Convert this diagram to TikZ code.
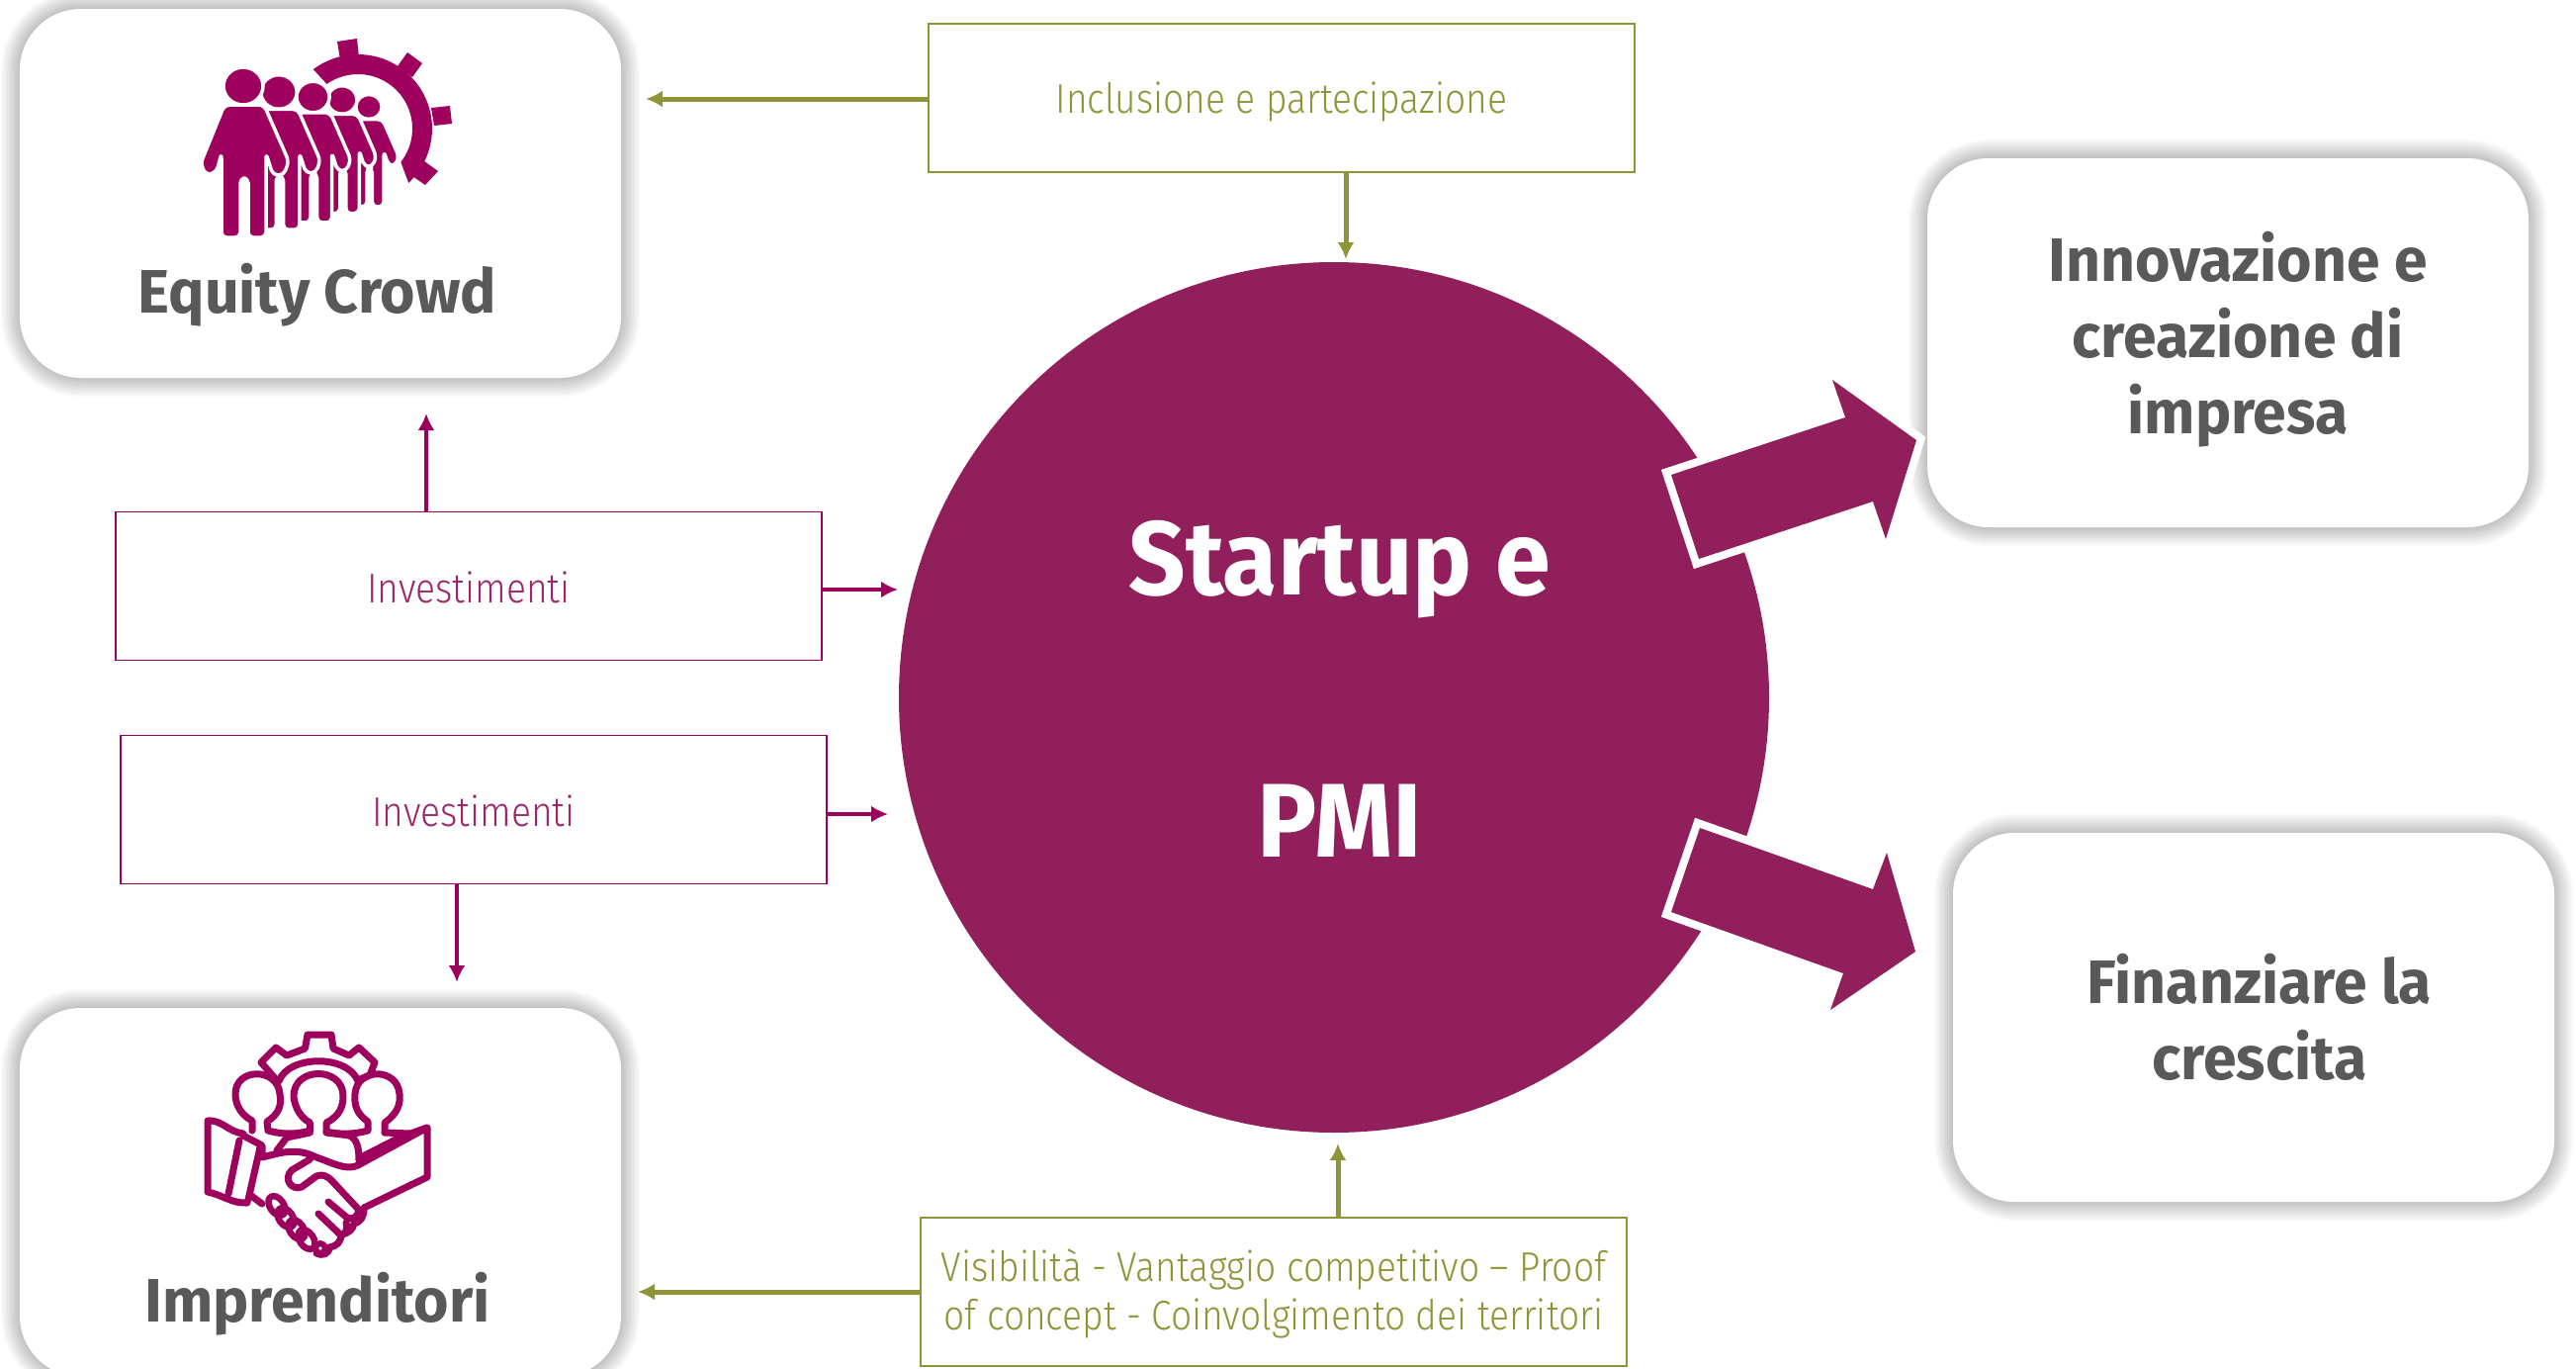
\documentclass[tikz,border=0pt]{standalone}
\usepackage{fontspec}
\setmainfont{Fira Sans}
\newfontfamily\titlefont[FakeStretch=0.98]{Fira Sans}
\newfontfamily\disctitlefont[FakeStretch=0.95]{Fira Sans}
\newfontfamily\labelfont[FakeStretch=0.885]{Fira Sans Light}
\usetikzlibrary{arrows.meta,calc}
\definecolor{cardtext}{HTML}{595959}
\definecolor{disc}{HTML}{911F5B}
\definecolor{plum}{HTML}{9E005D}
\definecolor{olive}{HTML}{8F9436}
\definecolor{labelplum}{HTML}{A0246A}
\tikzset{
  x=1pt,y=-1pt,
  card/.style={rectangle,rounded corners=62pt,fill=white,inner sep=0pt,minimum width=608pt,minimum height=373pt},
  cardtitle/.style={font=\titlefont\bfseries\fontsize{62}{77}\selectfont,text=cardtext,align=center,inner sep=0pt},
  labelbox/.style={rectangle,draw,line width=1.3pt,fill=white,minimum width=714pt,minimum height=150pt,inner sep=0pt,align=center,font=\labelfont\fontsize{42}{49}\selectfont},
  greenbox/.style={labelbox,draw=olive,text=olive},
  plumbox/.style={labelbox,draw=plum,text=labelplum},
  greenarrow/.style={draw=olive,line width=5pt,-{Latex[length=17pt,width=17pt]}},
  plumarrow/.style={draw=plum,line width=4.5pt,-{Latex[length=17pt,width=17pt]}},
  bigarrow/.style={fill=disc,draw=white,line width=16pt,line join=miter},
  bigfill/.style={fill=disc},
  icon/.style={draw=plum,line width=7pt,line join=round,line cap=round},
  person/.style={fill=plum,draw=white,line width=3.5pt,rounded corners=5pt,line join=round},
}
\newcommand{\softshadow}[4]{%
  \foreach \s in {1,...,12}{
    \fill[black,opacity=0.018,rounded corners={62pt+\s*1.6pt}] (#1-\s*1.6,#2-\s*1.6) rectangle (#3+\s*1.6,#4+\s*1.6);
  }%
}
\newcommand{\crowdperson}[3]{%
  \begin{scope}[shift={(#1,#2)},scale=#3]
    \fill[plum,draw=white,line width=3.5pt] (0,0) ellipse[x radius=20,y radius=19];
    \path[person] (-19,19) -- (21,19) -- (46,76) -- (41,90) -- (30,90) -- (23,68) -- (23,153) -- (5,153) -- (5,93) -- (-3,93) -- (-3,153) -- (-22,153) -- (-22,68) -- (-27,87) -- (-38,90) -- (-43,78) -- cycle;
  \end{scope}%
}
\begin{document}
\begin{tikzpicture}
\useasboundingbox (0,0) rectangle (2605,1384);
\clip (0,0) rectangle (2605,1384);
\fill[white] (0,0) rectangle (2605,1384);

% cards
\softshadow{20}{9}{628}{382}
\softshadow{20}{1019}{628}{1392}
\softshadow{1949}{160}{2557}{533}
\softshadow{1975}{842}{2583}{1215}
\node[card] (crowd) at (324,195.5) {};
\node[card] (impr) at (324,1205.5) {};
\node[card] (innov) at (2253,346.5) {};
\node[card] (fin) at (2279,1028.5) {};

% disc
\node[circle,fill=disc,minimum size=880pt,inner sep=0pt] (disc) at (1349,705) {};
\node[font=\disctitlefont\bfseries\fontsize{106}{265}\selectfont,text=white,align=center,inner sep=0pt] (disclabel) at (1355,696) {Startup e\\PMI};

% titles
\node[cardtitle,anchor=base] (crowdlabel) at (321,316) {Equity Crowd};
\node[cardtitle,anchor=base] (imprlabel) at (321,1336) {Imprenditori};
\node[cardtitle] (innovlabel) at (2263,343) {Innovazione e\\creazione di\\impresa};
\node[cardtitle] (finlabel) at (2285,1028) {Finanziare la\\crescita};

% label boxes
\node[greenbox] (incl) at (1296,99) {\rule{0pt}{40pt}Inclusione e partecipazione};
\node[plumbox] (inv1) at (474,592.5) {\rule{0pt}{34pt}Investimenti};
\node[plumbox] (inv2) at (479,818.5) {\rule{0pt}{34pt}Investimenti};
\node[greenbox] (vis) at (1288,1306) {\rule{0pt}{36pt}Visibilità - Vantaggio competitivo – Proof\\of concept - Coinvolgimento dei territori};

% connector free ends
\coordinate (e1) at (653,100);
\coordinate (e2) at (1361,262);
\coordinate (e3) at (431,418);
\coordinate (e4) at (908,596);
\coordinate (e5) at (898,823);
\coordinate (e6) at (462,993);
\coordinate (e7) at (1353,1156);
\coordinate (e8) at (645,1306);

\draw[greenarrow] (incl.west |- e1) -- (e1);
\draw[greenarrow] (incl.south -| e2) -- (e2);
\draw[plumarrow] (inv1.north -| e3) -- (e3);
\draw[plumarrow] (inv1.east |- e4) -- (e4);
\draw[plumarrow] (inv2.east |- e5) -- (e5);
\draw[plumarrow] (inv2.south -| e6) -- (e6);
\draw[greenarrow] (vis.north -| e7) -- (e7);
\draw[greenarrow] (vis.west |- e8) -- (e8);

% big arrows
\path[bigarrow] (1690,480) -- (1866,422) -- (1853,384) -- (1938,445) -- (1907,545) -- (1894,507) -- (1718,565) -- cycle;
\path[bigfill] (1690,480) -- (1866,422) -- (1853,384) -- (1938,445) -- (1907,545) -- (1894,507) -- (1718,565) -- cycle;
\path[bigarrow] (1719,837) -- (1894,899) -- (1908,862) -- (1937,962) -- (1851,1021) -- (1864,984) -- (1690,922) -- cycle;
\path[bigfill] (1719,837) -- (1894,899) -- (1908,862) -- (1937,962) -- (1851,1021) -- (1864,984) -- (1690,922) -- cycle;

% crowd icon: gear
\fill[plum] plot[domain=127:-47,samples=50] ({362+75*cos(\x)},{130-75*sin(\x)}) -- plot[domain=-38:125,samples=50] ({362+55*cos(\x)},{130-55*sin(\x)}) -- cycle;
\fill[plum] (341,42) -- (361,39) -- (363,58) -- (344,60) -- cycle;
\fill[plum] (412,53) -- (427,64) -- (417,78) -- (402,67) -- cycle;
\fill[plum] (436,109) -- (455,107) -- (457,125) -- (439,127) -- cycle;
\fill[plum] (429,163) -- (443,173) -- (430,187) -- (417,178) -- cycle;
% crowd icon: people, back to front
\crowdperson{373}{108}{0.66}
\crowdperson{346}{101}{0.75}
\crowdperson{316.5}{98}{0.83}
\crowdperson{282}{93}{0.91}
\crowdperson{246}{87}{1}

% handshake icon
\draw[icon] (278,1090) -- (264,1074) -- (279,1059) -- (290,1067) -- (308.5,1060) -- (311,1046) -- (335,1046) -- (337,1060) -- (353,1067) -- (363,1059) -- (379,1074) -- (374,1087) -- (362,1092);
\draw[icon] (282,1093) .. controls (292,1066) and (352,1066) .. (362,1093);
% heads and necks
\draw[icon] (313.5,1143) -- (313.5,1135) .. controls (300,1128) and (297,1112) .. (297,1108) .. controls (297,1078) and (347,1078) .. (347,1108) .. controls (347,1118) and (344,1128) .. (330,1135) -- (330,1144);
\draw[icon] (255,1143) -- (255,1133) .. controls (240,1125) and (238,1112) .. (238,1106) .. controls (238,1079) and (281,1079) .. (283,1106) .. controls (285,1118) and (282,1126) .. (270,1134) -- (271,1143) .. controls (285,1147) and (300,1147) .. (313.5,1143);
\draw[icon] (389,1145) -- (389,1135) .. controls (403,1125) and (405,1115) .. (404,1106) .. controls (402,1079) and (361,1079) .. (359,1106) .. controls (358,1118) and (361,1126) .. (372,1134) -- (372,1143) .. controls (358,1147) and (343,1147) .. (330,1144);
\draw[icon] (389,1145) -- (415,1146);
\draw[icon] (313.5,1145) -- (290,1150) -- (280,1163);
\draw[icon] (330,1145) -- (353.5,1148) .. controls (361,1152) and (363,1160) .. (363,1173);
\draw[icon] (246,1148) -- (265,1158) -- (265,1168);
% left sleeve
\draw[icon] (246,1146) .. controls (230,1144) and (225,1132) .. (210,1133) -- (210,1205) .. controls (225,1208) and (235,1217) .. (250,1216);
\draw[icon] (242,1153) -- (231,1207);
\draw[icon] (263,1160) -- (251,1213);
% wavy cuff and right sleeve
\draw[icon] (265,1170) .. controls (285,1165) and (300,1160) .. (320,1170) .. controls (335,1175) and (350,1184) .. (362,1178) -- (432,1140) -- (432,1190) -- (368,1221);
\draw[icon] (365,1170) -- (408,1148);
\draw[icon] (415,1146) -- (432,1140);
% right hand and thumb
\draw[icon] (313.5,1172) -- (295,1183) .. controls (286,1192) and (295,1204) .. (305,1200) -- (320,1189) .. controls (326,1186) and (332,1190) .. (335,1193) -- (362,1222) .. controls (364,1230) and (356,1234) .. (351,1231) -- (332,1215);
\draw[icon] (322,1227) -- (344,1248) .. controls (350,1250) and (352,1240) .. (350,1236);
\draw[icon] (368,1222) .. controls (368,1230) and (365,1235) .. (358,1237) .. controls (357,1243) and (352,1247) .. (345,1248) .. controls (345,1256) and (340,1260) .. (333,1261) .. controls (333,1268) and (325,1270) .. (320,1267);
% left fist, knuckles
\draw[icon] (253,1208) -- (265,1217);
\foreach \kx/\ky in {280/1219,289/1231,300/1243,310/1253}{
  \draw[icon,line width=6.5pt,rotate around={-55:(\kx,\ky)}] (\kx,\ky) ellipse[x radius=11,y radius=7];
}
\draw[icon,line width=6pt] (324,1262) circle[radius=5];
\end{tikzpicture}
\end{document}
